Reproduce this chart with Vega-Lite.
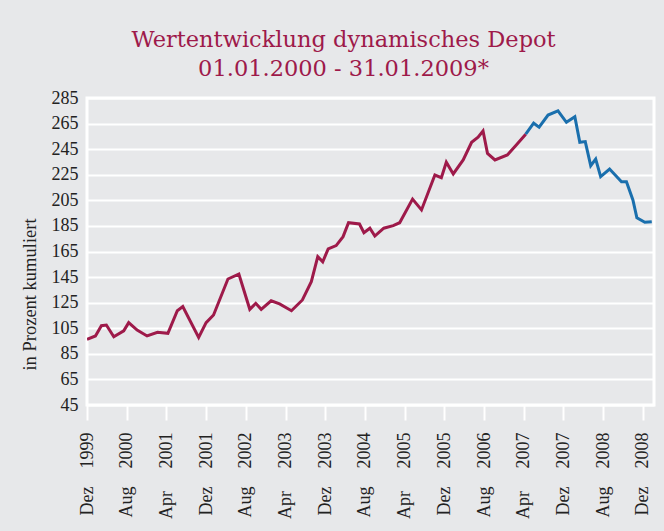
{
  "$schema": "https://vega.github.io/schema/vega-lite/v6.json",
  "autosize": "none",
  "width": 567,
  "height": 307,
  "padding": {"left": 87, "top": 98, "right": 10, "bottom": 126},
  "background": "#e7e8ea",
  "title": {
    "text": ["Wertentwicklung dynamisches Depot", "01.01.2000 - 31.01.2009*"],
    "anchor": "middle",
    "frame": "group",
    "dx": -27,
    "offset": 9,
    "font": "DejaVu Serif",
    "fontSize": 22.5,
    "fontWeight": "normal",
    "color": "#9e1a4a",
    "lineHeight": 28.5
  },
  "config": {
    "view": {"fill": "#e7e8ea", "stroke": "white", "strokeWidth": 3},
    "axis": {"labelFont": "Liberation Serif", "titleFont": "Liberation Serif", "labelColor": "#222", "titleColor": "#222"}
  },
  "data": {
    "values": [
      {"t": 0, "v": 96.4, "s": "a"},
      {"t": 1.7, "v": 99, "s": "a"},
      {"t": 2.9, "v": 107, "s": "a"},
      {"t": 3.9, "v": 107.5, "s": "a"},
      {"t": 5.4, "v": 98.4, "s": "a"},
      {"t": 7.4, "v": 103, "s": "a"},
      {"t": 8.4, "v": 109.4, "s": "a"},
      {"t": 10.1, "v": 103.6, "s": "a"},
      {"t": 12.1, "v": 99, "s": "a"},
      {"t": 14.2, "v": 101.8, "s": "a"},
      {"t": 16.3, "v": 101, "s": "a"},
      {"t": 18.2, "v": 118.7, "s": "a"},
      {"t": 19.3, "v": 121.9, "s": "a"},
      {"t": 22.5, "v": 97.9, "s": "a"},
      {"t": 24.0, "v": 109.4, "s": "a"},
      {"t": 25.5, "v": 115.4, "s": "a"},
      {"t": 28.4, "v": 143.5, "s": "a"},
      {"t": 30.6, "v": 147.4, "s": "a"},
      {"t": 32.8, "v": 119.8, "s": "a"},
      {"t": 34.0, "v": 124.5, "s": "a"},
      {"t": 35.1, "v": 119.8, "s": "a"},
      {"t": 37.1, "v": 126.5, "s": "a"},
      {"t": 38.8, "v": 124, "s": "a"},
      {"t": 41.2, "v": 118.7, "s": "a"},
      {"t": 43.4, "v": 127.1, "s": "a"},
      {"t": 45.2, "v": 141.4, "s": "a"},
      {"t": 46.5, "v": 161, "s": "a"},
      {"t": 47.5, "v": 157, "s": "a"},
      {"t": 48.6, "v": 167, "s": "a"},
      {"t": 50.2, "v": 169.6, "s": "a"},
      {"t": 51.6, "v": 176.6, "s": "a"},
      {"t": 52.7, "v": 187.5, "s": "a"},
      {"t": 54.9, "v": 186.5, "s": "a"},
      {"t": 55.8, "v": 179.7, "s": "a"},
      {"t": 57.0, "v": 183.2, "s": "a"},
      {"t": 58.0, "v": 177.1, "s": "a"},
      {"t": 59.8, "v": 183.2, "s": "a"},
      {"t": 61.7, "v": 185.2, "s": "a"},
      {"t": 63.0, "v": 187.5, "s": "a"},
      {"t": 65.6, "v": 206, "s": "a"},
      {"t": 67.4, "v": 197.5, "s": "a"},
      {"t": 70.1, "v": 224.8, "s": "a"},
      {"t": 71.4, "v": 222.7, "s": "a"},
      {"t": 72.4, "v": 234.8, "s": "a"},
      {"t": 73.8, "v": 225.6, "s": "a"},
      {"t": 75.8, "v": 236.6, "s": "a"},
      {"t": 77.5, "v": 250.4, "s": "a"},
      {"t": 78.8, "v": 254.3, "s": "a"},
      {"t": 79.8, "v": 259.2, "s": "a"},
      {"t": 80.7, "v": 241.7, "s": "a"},
      {"t": 82.2, "v": 236.6, "s": "a"},
      {"t": 84.7, "v": 240.5, "s": "a"},
      {"t": 86.5, "v": 248.3, "s": "a"},
      {"t": 88.4, "v": 256.7, "s": "a"},
      {"t": 88.4, "v": 256.7, "s": "b"},
      {"t": 90.0, "v": 265.3, "s": "b"},
      {"t": 91.1, "v": 262.2, "s": "b"},
      {"t": 92.9, "v": 271.7, "s": "b"},
      {"t": 94.9, "v": 274.9, "s": "b"},
      {"t": 96.6, "v": 266, "s": "b"},
      {"t": 98.3, "v": 270.4, "s": "b"},
      {"t": 99.3, "v": 250.4, "s": "b"},
      {"t": 100.4, "v": 250.9, "s": "b"},
      {"t": 101.5, "v": 232.1, "s": "b"},
      {"t": 102.5, "v": 237.3, "s": "b"},
      {"t": 103.5, "v": 223.5, "s": "b"},
      {"t": 105.3, "v": 229.5, "s": "b"},
      {"t": 107.7, "v": 219.6, "s": "b"},
      {"t": 108.7, "v": 219.6, "s": "b"},
      {"t": 110.0, "v": 205.3, "s": "b"},
      {"t": 110.8, "v": 191.4, "s": "b"},
      {"t": 112.4, "v": 187.8, "s": "b"},
      {"t": 113.8, "v": 188.3, "s": "b"}
    ]
  },
  "mark": {"type": "line", "strokeWidth": 3, "strokeJoin": "miter", "clip": true},
  "encoding": {
    "x": {
      "field": "t",
      "type": "quantitative",
      "scale": {"domain": [0, 114.25], "nice": false, "zero": false},
      "axis": {
        "values": [0, 8, 16, 24, 32, 40, 48, 56, 64, 72, 80, 88, 96, 104, 112],
        "labelExpr": "['Dez\u00a0\u00a0\u00a0\u00a01999','Aug\u00a0\u00a0\u00a0\u00a02000','Apr\u00a0\u00a0\u00a0\u00a0\u00a02001','Dez\u00a0\u00a0\u00a0\u00a02001','Aug\u00a0\u00a0\u00a0\u00a02002','Apr\u00a0\u00a0\u00a0\u00a0\u00a02003','Dez\u00a0\u00a0\u00a0\u00a02003','Aug\u00a0\u00a0\u00a0\u00a02004','Apr\u00a0\u00a0\u00a0\u00a0\u00a02005','Dez\u00a0\u00a0\u00a0\u00a02005','Aug\u00a0\u00a0\u00a0\u00a02006','Apr\u00a0\u00a0\u00a0\u00a0\u00a02007','Dez\u00a0\u00a0\u00a0\u00a02007','Aug\u00a0\u00a0\u00a0\u00a02008','Dez\u00a0\u00a0\u00a0\u00a02008'][round(datum.value/8)]",
        "labelAngle": -90,
        "labelAlign": "right",
        "labelBaseline": "middle",
        "labelFontSize": 18,
        "labelPadding": 12,
        "labelOverlap": false,
        "labelBound": false,
        "labelFlush": false,
        "domain": false,
        "grid": false,
        "ticks": true,
        "tickColor": "white",
        "tickWidth": 2,
        "tickSize": 15,
        "title": null
      }
    },
    "y": {
      "field": "v",
      "type": "quantitative",
      "scale": {"domain": [45, 285], "nice": false, "zero": false},
      "axis": {
        "values": [45, 65, 85, 105, 125, 145, 165, 185, 205, 225, 245, 265, 285],
        "labelFontSize": 18,
        "labelPadding": 9,
        "labelFlush": false,
        "labelOverlap": false,
        "ticks": false,
        "domain": false,
        "grid": true,
        "gridColor": "white",
        "gridWidth": 2,
        "title": "in Prozent kumuliert",
        "titleFontSize": 18.5,
        "titleFontWeight": "normal",
        "titleY": 196,
        "titleX": -58,
        "titleAngle": -90,
        "titleBaseline": "middle",
        "titleAlign": "center"
      }
    },
    "color": {
      "field": "s",
      "type": "nominal",
      "scale": {"domain": ["a", "b"], "range": ["#9e1a4a", "#1a6fad"]},
      "legend": null
    }
  }
}
